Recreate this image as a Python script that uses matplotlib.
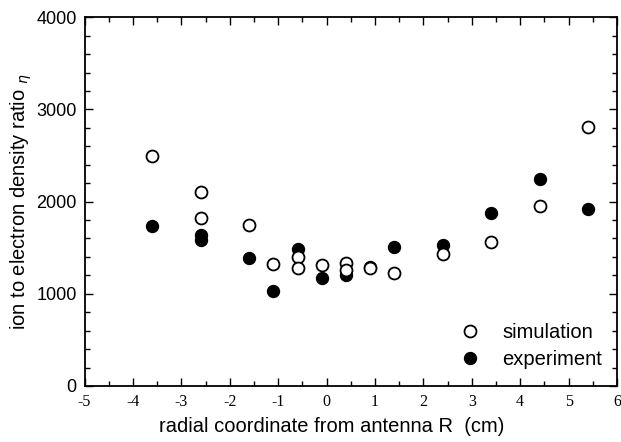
import matplotlib
matplotlib.use("Agg")
import matplotlib.pyplot as plt
from matplotlib.ticker import MultipleLocator

# data
sim_x = [-3.6, -2.6, -2.6, -1.6, -1.1, -0.6, -0.6, -0.1, 0.4, 0.4, 0.9, 1.4, 2.4, 3.4, 4.4, 5.4]
sim_y = [2500, 2100, 1825, 1750, 1320, 1395, 1285, 1315, 1330, 1260, 1285, 1225, 1430, 1560, 1955, 2805]
exp_x = [-3.6, -2.6, -2.6, -1.6, -1.1, -0.6, -0.1, 0.4, 0.9, 1.4, 2.4, 3.4, 4.4, 5.4]
exp_y = [1730, 1640, 1585, 1390, 1035, 1490, 1175, 1205, 1295, 1505, 1530, 1880, 2240, 1915]

x_ticks = [-5, -4, -3, -2, -1, 0, 1, 2, 3, 4, 5, 6]
y_ticks = [0, 1000, 2000, 3000, 4000]

fig = plt.figure(figsize=(6.21, 4.42), dpi=100)
ax = fig.add_axes([84.5 / 621, 1 - 386 / 442, (617 - 84.5) / 621, (386 - 17.2) / 442])

ax.plot(exp_x, exp_y, linestyle="none", marker="o", markersize=8.6,
        markerfacecolor="black", markeredgecolor="black", label="experiment", zorder=3)
ax.plot(sim_x, sim_y, linestyle="none", marker="o", markersize=8.6,
        markerfacecolor="white", markeredgecolor="black", markeredgewidth=1.3,
        label="simulation", zorder=4)

ax.set_xlim(-5, 6)
ax.set_ylim(0, 4000)
ax.set_xticks(x_ticks)
ax.set_xticklabels([str(t) for t in x_ticks], family="Liberation Serif", fontsize=11.5)
ax.set_yticks(y_ticks)
ax.set_yticklabels([str(t) for t in y_ticks], family="Liberation Sans", fontsize=13)
ax.xaxis.set_minor_locator(MultipleLocator(0.5))
ax.yaxis.set_minor_locator(MultipleLocator(200))
ax.tick_params(which="both", direction="in", top=True, right=True, width=1.0)
ax.tick_params(which="major", length=6)
ax.tick_params(which="minor", length=3.5)
ax.tick_params(axis="x", pad=6)
ax.tick_params(axis="y", pad=5.5)
for s in ax.spines.values():
    s.set_linewidth(1.3)

ax.set_xlabel("radial coordinate from antenna R  (cm)", family="Liberation Sans", fontsize=14.5)
ax.xaxis.set_label_coords(0.465, -0.085)
ax.set_ylabel("ion to electron density ratio $_{\\eta}$", family="Liberation Sans", fontsize=14.5)
ax.yaxis.set_label_coords(-0.095, 0.5)

handles, labels = ax.get_legend_handles_labels()
leg = ax.legend(handles[::-1], labels[::-1], loc="lower right", frameon=False,
                prop={"family": "Liberation Sans", "size": 14.5},
                handletextpad=1.0, labelspacing=0.4, borderaxespad=0.0, borderpad=0.0,
                handlelength=1.2, bbox_to_anchor=(0.972, 0.045))

fig.savefig("out.png", dpi=100)
